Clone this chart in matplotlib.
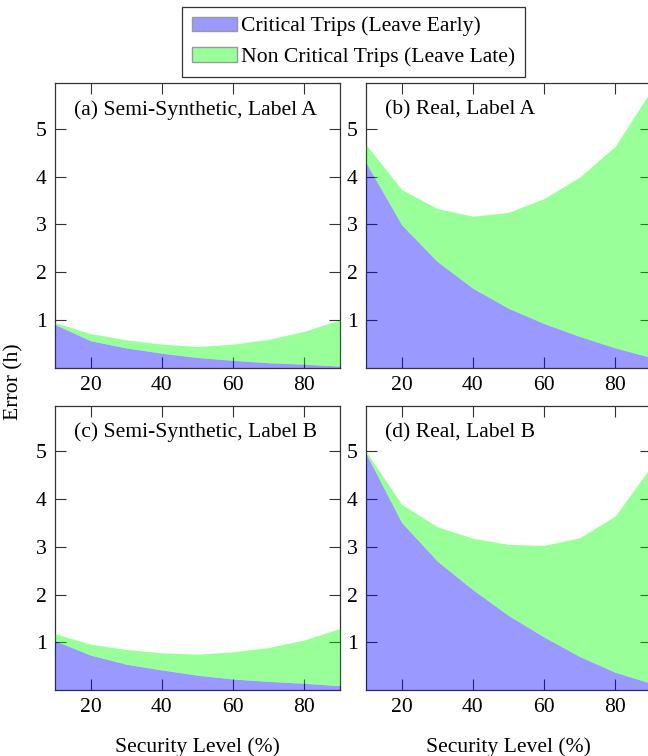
import numpy as np
import matplotlib
matplotlib.use('Agg')
import matplotlib.pyplot as plt
from matplotlib.patches import Patch

plt.rcParams['font.family'] = ['Liberation Serif', 'DejaVu Serif']
plt.rcParams['font.size'] = 15.6

# security level (%)
levels = [10, 20, 30, 40, 50, 60, 70, 80, 90]

# (a) semi-synthetic, label A
a_critical = [0.90, 0.56, 0.41, 0.30, 0.21, 0.15, 0.10, 0.07, 0.03]
a_total = [0.94, 0.71, 0.58, 0.49, 0.44, 0.49, 0.59, 0.76, 1.00]
# (b) real, label A
b_critical = [4.29, 2.99, 2.22, 1.66, 1.24, 0.92, 0.65, 0.41, 0.21]
b_total = [4.67, 3.73, 3.33, 3.17, 3.25, 3.54, 3.99, 4.64, 5.80]
# (c) semi-synthetic, label B
c_critical = [1.03, 0.73, 0.54, 0.42, 0.31, 0.23, 0.18, 0.14, 0.09]
c_total = [1.18, 0.96, 0.85, 0.78, 0.75, 0.80, 0.89, 1.05, 1.29]
# (d) real, label B
d_critical = [4.95, 3.51, 2.70, 2.10, 1.56, 1.11, 0.70, 0.37, 0.14]
d_total = [5.00, 3.89, 3.42, 3.18, 3.05, 3.03, 3.19, 3.65, 4.68]

titles = ['(a) Semi-Synthetic, Label A', '(b) Real, Label A',
          '(c) Semi-Synthetic, Label B', '(d) Real, Label B']
panels = [(a_critical, a_total), (b_critical, b_total),
          (c_critical, c_total), (d_critical, d_total)]

fig = plt.figure(figsize=(6.48, 7.56), dpi=100)

W = 285 / 648
H = 284.5 / 756
lefts = [55 / 648, 366 / 648]
bottoms = [(756 - 367.5) / 756, (756 - 690) / 756]

for i, (crit, total) in enumerate(panels):
    row, col = divmod(i, 2)
    ax = fig.add_axes([lefts[col], bottoms[row], W, H])
    x = np.array(levels)
    crit = np.array(crit)
    total = np.array(total)
    # fills sit over the spines/ticks, like pgfplots opacity fills
    ax.fill_between(x, 0, crit, color='blue', alpha=0.4, lw=0, zorder=3)
    ax.fill_between(x, crit, total, color='#00ff00', alpha=0.4, lw=0, zorder=3)
    ax.set_xlim(10, 90)
    ax.set_ylim(0, 5.96)
    ax.set_xticks([20, 40, 60, 80])
    ax.set_yticks([1, 2, 3, 4, 5])
    ax.tick_params(direction='in', top=True, right=True, length=8,
                   width=0.8, color='#333333', pad=6)
    for s in ax.spines.values():
        s.set_color('#333333')
        s.set_linewidth(0.9)
    ax.text(0.065, 0.905, titles[i], transform=ax.transAxes,
            ha='left', va='center')
    if row == 1:
        ax.set_xlabel('Security Level (%)', labelpad=14)

fig.text(0.022, 1 - 382 / 756, 'Error (h)', rotation=90,
         ha='center', va='center')

handles = [Patch(facecolor='#9999ff', edgecolor='#999999', label='Critical Trips (Leave Early)'),
           Patch(facecolor='#99ff99', edgecolor='#999999', label='Non Critical Trips (Leave Late)')]
leg = fig.legend(handles=handles, loc='upper center', bbox_to_anchor=(0.5455, 0.991),
                 fancybox=False, framealpha=1, edgecolor='#333333',
                 handlelength=2.1, handleheight=0.65, handletextpad=0.18,
                 labelspacing=0.5, borderpad=0.45, borderaxespad=0)
leg.get_frame().set_linewidth(0.9)

fig.savefig('out.png', dpi=100)
